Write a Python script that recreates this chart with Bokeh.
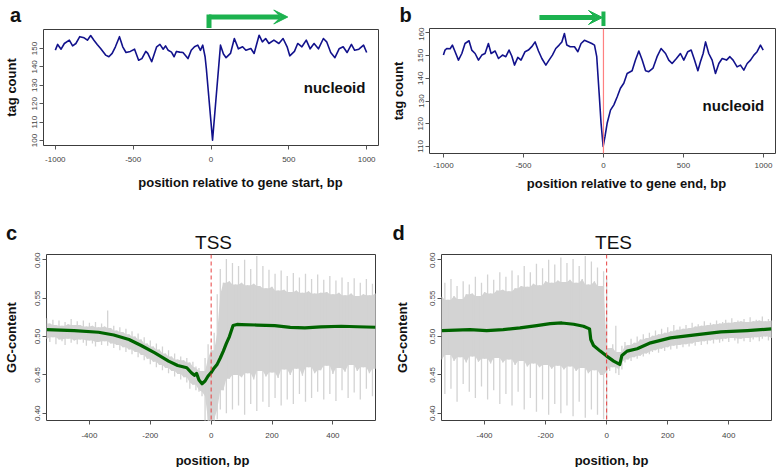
import math
from bokeh.plotting import figure
from bokeh.layouts import row, column
from bokeh.models import FixedTicker, Arrow, VeeHead, Span, Range1d
from bokeh.core.properties import value
from bokeh.embed import file_html
from bokeh.resources import INLINE

# ---------------- data ----------------
# panel a: tag count around gene start
a_x = [-1000, -985, -963, -942, -910, -889, -868, -843, -815, -794,
       -773, -752, -731, -709, -677, -656, -635, -614, -588, -567,
       -546, -518, -491, -465, -444, -419, -406, -381, -349, -328,
       -307, -292, -275, -254, -237, -222, -201, -180, -148, -127,
       -106, -85, -68, -53, -38, -30, 10, 34, 61, 80,
       97, 125, 150, 176, 203, 224, 256, 277, 309, 330,
       351, 372, 404, 436, 463, 489, 506, 536, 557, 584,
       612, 637, 662, 690, 722, 743, 769, 796, 823, 849,
       874, 902, 923, 950, 980, 1000]
a_y = [149.1, 152.2, 149.6, 152.7, 154.5, 151.4, 152.7, 156.4, 155.8, 154.5,
       157.0, 154.5, 152.2, 150.0, 146.4, 145.5, 147.3, 150.9, 156.4, 150.9,
       147.8, 148.4, 149.6, 143.6, 144.5, 148.4, 147.3, 142.8, 150.9, 152.2,
       149.6, 151.4, 149.0, 148.0, 145.5, 148.4, 148.0, 147.8, 144.5, 149.0,
       150.9, 151.8, 149.0, 151.8, 145.5, 139.1, 100.2, 124.6, 151.8, 147.0,
       145.0, 147.3, 155.4, 149.8, 150.9, 149.0, 150.0, 147.3, 157.2, 153.6,
       155.4, 152.7, 154.5, 152.7, 155.4, 150.9, 146.0, 148.4, 152.7, 150.9,
       154.5, 149.8, 152.7, 149.8, 155.4, 153.6, 147.8, 145.0, 149.8, 150.9,
       147.8, 152.2, 149.0, 149.6, 151.8, 147.8]

# panel b: tag count around gene end
b_x = [-1000, -990, -979, -958, -944, -927, -906, -885, -865, -840,
       -823, -802, -781, -760, -740, -719, -702, -677, -656, -631,
       -610, -590, -573, -556, -535, -515, -490, -469, -448, -427,
       -406, -385, -360, -340, -319, -298, -277, -260, -244, -229,
       -208, -181, -160, -140, -119, -94, -73, -56, -42, -27,
       -15, -2, 10, 23, 44, 65, 86, 106, 127, 148,
       179, 200, 221, 242, 263, 283, 310, 335, 360, 388,
       408, 429, 456, 481, 502, 527, 548, 569, 590, 606,
       623, 638, 658, 679, 700, 721, 742, 769, 790, 810,
       835, 856, 877, 898, 919, 940, 960, 981, 998]
b_y = [150.2, 152.4, 153.1, 153.0, 154.6, 151.7, 148.0, 150.9, 155.3, 156.5,
       152.4, 150.9, 148.0, 150.2, 150.9, 155.3, 150.9, 152.0, 148.7, 150.2,
       149.5, 152.4, 149.8, 145.8, 149.2, 148.0, 151.7, 152.4, 153.9, 156.0,
       152.0, 148.7, 145.8, 148.0, 150.2, 153.1, 154.6, 156.0, 159.7, 154.6,
       153.9, 153.9, 151.7, 155.3, 156.7, 156.0, 155.3, 154.6, 149.5, 133.4,
       120.2, 110.0, 114.5, 120.2, 126.0, 128.3, 131.9, 135.6, 137.8, 142.1,
       143.3, 148.0, 152.0, 148.0, 143.3, 142.9, 144.5, 149.5, 153.1, 150.9,
       148.0, 146.5, 148.7, 150.9, 148.0, 151.7, 152.4, 148.0, 143.3, 147.3,
       150.9, 156.0, 150.9, 148.0, 142.1, 146.5, 148.7, 148.0, 149.5, 148.0,
       145.0, 145.8, 143.6, 146.5, 148.0, 150.2, 151.7, 154.6, 152.4]

# panels c/d: GC-content spread (every 10 bp from -540 to 540)
gc_pos = list(range(-540, 541, 10))
c_hi = [0.524, 0.517, 0.522, 0.515, 0.521, 0.514, 0.519, 0.516, 0.523, 0.515,
        0.520, 0.515, 0.521, 0.513, 0.518, 0.514, 0.519, 0.512, 0.517, 0.513,
        0.534, 0.511, 0.514, 0.508, 0.512, 0.506, 0.510, 0.503, 0.507, 0.500,
        0.504, 0.496, 0.499, 0.491, 0.495, 0.487, 0.491, 0.483, 0.487, 0.478,
        0.482, 0.474, 0.478, 0.470, 0.474, 0.469, 0.472, 0.466, 0.467, 0.461,
        0.459, 0.455, 0.472, 0.490, 0.482, 0.505, 0.555, 0.588, 0.570, 0.601,
        0.572, 0.596, 0.568, 0.592, 0.570, 0.600, 0.567, 0.588, 0.569, 0.605,
        0.566, 0.592, 0.563, 0.587, 0.565, 0.582, 0.560, 0.586, 0.561, 0.579,
        0.558, 0.583, 0.560, 0.577, 0.557, 0.582, 0.559, 0.575, 0.556, 0.581,
        0.557, 0.574, 0.558, 0.579, 0.555, 0.573, 0.557, 0.577, 0.554, 0.571,
        0.556, 0.576, 0.553, 0.570, 0.555, 0.575, 0.554, 0.569, 0.556]
c_lo = [0.497, 0.493, 0.499, 0.490, 0.496, 0.494, 0.489, 0.497, 0.492, 0.495,
        0.490, 0.496, 0.492, 0.488, 0.495, 0.491, 0.487, 0.493, 0.489, 0.494,
        0.488, 0.491, 0.485, 0.489, 0.482, 0.486, 0.480, 0.483, 0.477, 0.480,
        0.473, 0.476, 0.469, 0.471, 0.464, 0.467, 0.460, 0.463, 0.456, 0.459,
        0.452, 0.455, 0.448, 0.451, 0.444, 0.447, 0.440, 0.432, 0.437, 0.430,
        0.428, 0.422, 0.390, 0.390, 0.390, 0.390, 0.392, 0.405, 0.430, 0.400,
        0.445, 0.405, 0.450, 0.410, 0.447, 0.398, 0.452, 0.412, 0.444, 0.403,
        0.455, 0.415, 0.448, 0.408, 0.453, 0.420, 0.446, 0.410, 0.457, 0.418,
        0.450, 0.412, 0.458, 0.425, 0.449, 0.415, 0.460, 0.420, 0.452, 0.428,
        0.456, 0.418, 0.462, 0.425, 0.451, 0.416, 0.459, 0.430, 0.454, 0.420,
        0.463, 0.427, 0.455, 0.418, 0.460, 0.432, 0.452, 0.422, 0.458]
d_hi = [0.552, 0.570, 0.548, 0.575, 0.553, 0.566, 0.549, 0.572, 0.555, 0.568,
        0.556, 0.578, 0.553, 0.570, 0.558, 0.581, 0.556, 0.574, 0.560, 0.584,
        0.561, 0.578, 0.559, 0.586, 0.563, 0.580, 0.566, 0.592, 0.565, 0.584,
        0.569, 0.595, 0.567, 0.589, 0.572, 0.600, 0.570, 0.594, 0.573, 0.603,
        0.571, 0.596, 0.574, 0.601, 0.570, 0.592, 0.575, 0.605, 0.568, 0.598,
        0.572, 0.590, 0.566, 0.585, 0.575, 0.485, 0.490, 0.514, 0.480, 0.488,
        0.493, 0.489, 0.497, 0.492, 0.500, 0.496, 0.503, 0.498, 0.505, 0.501,
        0.508, 0.503, 0.510, 0.505, 0.512, 0.507, 0.515, 0.509, 0.513, 0.510,
        0.515, 0.511, 0.518, 0.513, 0.516, 0.514, 0.520, 0.515, 0.518, 0.516,
        0.521, 0.517, 0.519, 0.522, 0.518, 0.524, 0.519, 0.521, 0.520, 0.523,
        0.519, 0.525, 0.520, 0.522, 0.521, 0.526, 0.520, 0.523, 0.521]
d_lo = [0.470, 0.425, 0.476, 0.432, 0.468, 0.415, 0.473, 0.438, 0.466, 0.428,
        0.474, 0.420, 0.467, 0.435, 0.471, 0.418, 0.465, 0.430, 0.472, 0.412,
        0.466, 0.425, 0.470, 0.410, 0.463, 0.428, 0.468, 0.405, 0.461, 0.420,
        0.465, 0.402, 0.460, 0.418, 0.463, 0.398, 0.458, 0.412, 0.462, 0.400,
        0.457, 0.410, 0.461, 0.396, 0.455, 0.415, 0.459, 0.394, 0.452, 0.405,
        0.456, 0.398, 0.450, 0.392, 0.392, 0.455, 0.460, 0.452, 0.450, 0.457,
        0.466, 0.470, 0.468, 0.473, 0.471, 0.475, 0.474, 0.478, 0.477, 0.480,
        0.482, 0.479, 0.484, 0.481, 0.486, 0.483, 0.488, 0.484, 0.489, 0.486,
        0.490, 0.487, 0.491, 0.488, 0.493, 0.489, 0.494, 0.490, 0.495, 0.491,
        0.496, 0.492, 0.494, 0.497, 0.493, 0.498, 0.495, 0.491, 0.497, 0.494,
        0.498, 0.493, 0.496, 0.499, 0.494, 0.497, 0.500, 0.495, 0.498]

# mean GC-content curves
c_mx = [-540, -450, -370, -320, -270, -230, -185, -140, -110, -80, -65, -55,
        -48, -40, -30, -20, -10, 0, 10, 20, 30, 40, 50, 60, 72, 85, 100, 150,
        209, 260, 308, 360, 428, 480, 540]
c_my = [0.509, 0.5078, 0.5056, 0.502, 0.4961, 0.4883, 0.4788, 0.468, 0.4623,
        0.4593, 0.4528, 0.4494, 0.452, 0.4433, 0.4385, 0.442, 0.4485, 0.453,
        0.459, 0.464, 0.472, 0.481, 0.491, 0.500, 0.5143, 0.5158, 0.5156, 0.515,
        0.5143, 0.512, 0.5113, 0.5125, 0.5134, 0.5128, 0.5121]
d_mx = [-540, -448, -393, -339, -284, -229, -185, -147, -108, -76, -56, -52,
        -43, -21, 0, 23, 43, 50, 67, 100, 144, 209, 297, 374, 461, 540]
d_my = [0.5078, 0.5091, 0.5078, 0.5091, 0.5113, 0.5143, 0.5169, 0.5177, 0.516,
        0.5134, 0.51, 0.4961, 0.4883, 0.481, 0.4745, 0.468, 0.4636, 0.4753,
        0.481, 0.484, 0.4918, 0.4983, 0.5026, 0.5061, 0.5078, 0.51]

# ticks
ab_xticks = [-1000, -500, 0, 500, 1000]
ab_xlabels = ["-1000", "-500", "0", "500", "1000"]
a_yticks = [100, 110, 120, 130, 140, 150]
a_ylabels = ["100", "110", "120", "130", "140", "150"]
b_yticks = [110, 120, 130, 140, 150, 160]
b_ylabels = ["110", "120", "130", "140", "150", "160"]
cd_xticks = [-400, -200, 0, 200, 400]
cd_xlabels = ["-400", "-200", "0", "200", "400"]
cd_yticks = [0.40, 0.45, 0.50, 0.55, 0.60]
cd_ylabels = ["0.40", "0.45", "0.50", "0.55", "0.60"]

# gene-start / gene-end arrows (bp)
tss_arrow = [0, 500]
tes_arrow = [-400, 0]

# ---------------- styling ----------------
FONT = "Liberation Sans"
BLUE = "#12128c"
DKGREEN = "#006400"
ARROW_GREEN = "#1cb24f"
GRAY = "#d3d3d3"
TXT = "#111111"

W_L, W_R = 386, 390


def no_align(p):
    if "frame_align" in p.properties():
        p.frame_align = False


def make_fig(w, h, left, right, top, bottom, xr, yr):
    p = figure(width=w, height=h, x_range=xr, y_range=yr,
               output_backend="svg", toolbar_location=None, title=None,
               min_border_left=left, min_border_right=right,
               min_border_top=top, min_border_bottom=bottom)
    no_align(p)
    p.xgrid.visible = False
    p.ygrid.visible = False
    p.outline_line_color = "#3c3c3c"
    p.outline_line_width = 1
    p.background_fill_color = "white"
    p.border_fill_color = "white"
    return p


def style_axes(p, xt, xl, yt, yl, xstand, ylabel, ylab_stand):
    p.xaxis.ticker = FixedTicker(ticks=xt)
    p.xaxis.major_label_overrides = dict(zip(xt, xl))
    p.yaxis.ticker = FixedTicker(ticks=yt)
    p.yaxis.major_label_overrides = dict(zip(yt, yl))
    for ax in (p.xaxis[0], p.yaxis[0]):
        ax.axis_line_color = None
        ax.major_tick_line_color = "#555555"
        ax.major_tick_out = 4
        ax.major_tick_in = 0
        ax.minor_tick_line_color = None
        ax.major_label_text_font = FONT
        ax.major_label_text_font_size = "8px"
        ax.major_label_text_color = "#444444"
    p.xaxis.major_label_standoff = xstand
    p.yaxis.major_label_standoff = 2
    p.yaxis.major_label_orientation = "vertical"
    p.yaxis.axis_label = ylabel
    p.yaxis.axis_label_standoff = ylab_stand
    p.yaxis.axis_label_text_font = FONT
    p.yaxis.axis_label_text_font_size = "13px"
    p.yaxis.axis_label_text_font_style = "bold"
    p.yaxis.axis_label_text_color = TXT


def strip(w, h, xr=None):
    s = figure(width=w, height=h, x_range=xr if xr is not None else Range1d(0, w),
               y_range=Range1d(0, h), output_backend="svg", toolbar_location=None,
               title=None, x_axis_location=None, y_axis_location=None,
               min_border_left=0, min_border_right=0, min_border_top=0,
               min_border_bottom=0)
    no_align(s)
    s.xgrid.visible = False
    s.ygrid.visible = False
    s.outline_line_color = None
    s.background_fill_color = "white"
    s.border_fill_color = "white"
    return s


def aligned_range(x0, x1, left, frame_w, right):
    sc = frame_w / (x1 - x0)
    return Range1d(x0 - left / sc, x1 + right / sc), sc


def txt(p, x, y, t, size, style="bold", baseline="middle"):
    p.text(x=[x], y=[y], text=[t], text_font=value(FONT), text_font_size=value(size),
           text_font_style=value(style), text_align="center", text_baseline=baseline,
           text_color=TXT)


def gc_spread(p, lo, hi):
    # solid core where neighbouring positions overlap, thin spikes beyond it
    n = len(gc_pos)
    core_hi = [min(hi[max(i - 1, 0):min(i + 2, n)]) for i in range(n)]
    core_lo = [max(lo[max(i - 1, 0):min(i + 2, n)]) for i in range(n)]
    core_lo = [min(a, b) for a, b in zip(core_lo, core_hi)]
    p.varea(x=gc_pos, y1=core_lo, y2=core_hi, fill_color=GRAY)
    p.segment(x0=gc_pos, y0=lo, x1=gc_pos, y1=hi, line_color=GRAY, line_width=1.3)


# ================= top row =================
A_X = (-1076, 1076)
B_X = (-1087, 1075)

# --- panel a strip (arrow + letter) ---
ra, sa = aligned_range(A_X[0], A_X[1], 39, 339, 8)
sta = strip(W_L, 28, ra)
sta.segment(x0=[tss_arrow[0]], y0=[-3], x1=[tss_arrow[0]], y1=[11.5],
            line_color=ARROW_GREEN, line_width=5, line_cap="square")
sta.add_layout(Arrow(end=VeeHead(size=14, fill_color=ARROW_GREEN, line_color=ARROW_GREEN),
                     x_start=tss_arrow[0], y_start=11.5, x_end=tss_arrow[1], y_end=11.5,
                     line_color=ARROW_GREEN, line_width=5))
txt(sta, A_X[0] - (39 - 15) / sa, 14, "a", "20px", baseline="alphabetic")

# --- panel b strip ---
rb, sb = aligned_range(B_X[0], B_X[1], 43, 346, 1)
stb = strip(W_R, 27, rb)
stb.add_layout(Arrow(end=VeeHead(size=14, fill_color=ARROW_GREEN, line_color=ARROW_GREEN),
                     x_start=tes_arrow[0], y_start=10, x_end=tes_arrow[1] - 6, y_end=10,
                     line_color=ARROW_GREEN, line_width=5))
stb.segment(x0=[tes_arrow[1]], y0=[1.5], x1=[tes_arrow[1]], y1=[16],
            line_color=ARROW_GREEN, line_width=4)
txt(stb, B_X[0] - (43 - 19) / sb, 12.5, "b", "20px", baseline="alphabetic")

# --- panel a main ---
pa = make_fig(W_L, 142, 39, 8, 1, 25, A_X, (97.3, 160.3))
style_axes(pa, ab_xticks, ab_xlabels, a_yticks, a_ylabels, 7, "tag count", 11)
pa.line(a_x, a_y, line_color=BLUE, line_width=1.6, line_join="round")
txt(pa, 794, 128.8, "nucleoid", "15px")

# --- panel b main ---
pb = make_fig(W_R, 144, 43, 1, 1, 18, B_X, (106.9, 161.9))
style_axes(pb, ab_xticks, ab_xlabels, b_yticks, b_ylabels, 5, "tag count", 10)
pb.add_layout(Span(location=0, dimension="height", line_color="#ff8080", line_width=1.2))
pb.line(b_x, b_y, line_color=BLUE, line_width=1.6, line_join="round")
txt(pb, 812, 128, "nucleoid", "15px")

# --- x-label strips, top row ---
sxa = strip(W_L, 30)
txt(sxa, 240, 18, "position relative to gene start, bp", "13px")
sxb = strip(W_R, 29)
txt(sxb, 240, 17, "position relative to gene end, bp", "13px")

# ================= bottom row =================
C_X = (-541, 540)
C_Y = (0.3905, 0.607)

stc = strip(W_L, 52)
txt(stc, 11, 20, "c", "20px", baseline="alphabetic")
txt(stc, 213, 10, "TSS", "19px", style="normal")
std = strip(W_R, 52)
txt(std, 12, 20, "d", "20px", baseline="alphabetic")
txt(std, 227, 10, "TES", "19px", style="normal")

pc = make_fig(W_L, 192, 44, 11, 2, 24, C_X, C_Y)
style_axes(pc, cd_xticks, cd_xlabels, cd_yticks, cd_ylabels, 8, "GC-content", 14)
gc_spread(pc, c_lo, c_hi)
pc.add_layout(Span(location=0, dimension="height", line_color="#e84040",
                   line_width=1, line_dash="4 3"))
pc.line(c_mx, c_my, line_color=DKGREEN, line_width=3.2, line_join="round")

pd_ = make_fig(W_R, 192, 55, 5, 2, 24, C_X, C_Y)
style_axes(pd_, cd_xticks, cd_xlabels, cd_yticks, cd_ylabels, 8, "GC-content", 18)
gc_spread(pd_, d_lo, d_hi)
pd_.add_layout(Span(location=0, dimension="height", line_color="#e84040",
                    line_width=1, line_dash="4 3"))
pd_.line(d_mx, d_my, line_color=DKGREEN, line_width=3.2, line_join="round")

sxc = strip(W_L, 23)
txt(sxc, 212, 7, "position, bp", "13px")
sxd = strip(W_R, 23)
txt(sxd, 225, 7, "position, bp", "13px")

layout = column(
    row(column(sta, pa, sxa), column(stb, pb, sxb)),
    row(column(stc, pc, sxc), column(std, pd_, sxd)),
)
open("out.html", "w").write(file_html(layout, INLINE))
